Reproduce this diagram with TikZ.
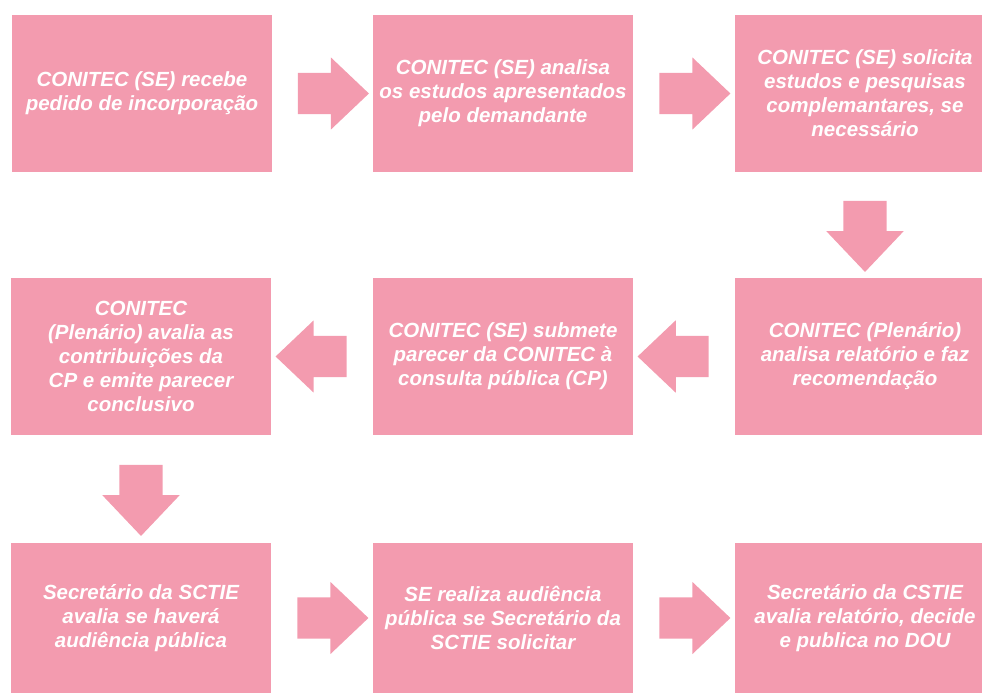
\documentclass[tikz,border=0pt]{standalone}
\usepackage{fontspec}
\setmainfont{Liberation Sans}
\usetikzlibrary{shapes.arrows,calc}
\definecolor{rosa}{RGB}{243,155,175}
\tikzset{>=latex}

\begin{document}
\begin{tikzpicture}[x=1pt,y=-1pt]

	\tikzstyle{box_pink} = [rectangle, fill=rosa, minimum width=260pt, minimum height=157pt, inner sep=0pt, align=center, text=white, font=\fontsize{20.5}{24}\selectfont\bfseries\itshape]
	\tikzstyle{box_last} = [box_pink, minimum height=150pt]
	\tikzstyle{arrow_right} = [single arrow, fill=rosa, inner sep=0pt, outer sep=0pt, inner ysep=20.5pt, minimum height=71pt, single arrow head extend=15.5pt, single arrow tip angle=87]
	\tikzstyle{arrow_left} = [arrow_right, rotate=180]
	\tikzstyle{arrow_down} = [arrow_right, rotate=-90, inner ysep=21.5pt, single arrow head extend=17pt]

	\useasboundingbox (0,0) rectangle (982,693);

%------------------------------------------------------------
	\node[box_pink] (b00) at (142,93.5) {CONITEC (SE) recebe\\pedido de incorporação};
	\node[box_pink] (b01) at (503,93.5) {CONITEC (SE) analisa\\os estudos apresentados\\pelo demandante};
	\node[box_pink] (b02) at (865,93.5) {CONITEC (SE) solicita\\estudos e pesquisas\\complemantares, se\\necessário};

%------------------------------------------------------------

	\node[box_pink] (b10) at (141,356.5) {CONITEC\\(Plenário) avalia as\\contribuições da\\CP e emite parecer\\conclusivo};
	\node[box_pink] (b11) at (503,356.5) {CONITEC (SE) submete\\parecer da CONITEC à\\consulta pública (CP)};
	\node[box_pink] (b12) at (865,356.5) {CONITEC (Plenário)\\analisa relatório e faz\\recomendação};

%------------------------------------------------------------

	\node[box_last] (b20) at (141,618) {Secretário da SCTIE\\avalia se haverá\\audiência pública};
	\node[box_last] (b21) at (503,618) {SE realiza audiência\\pública se Secretário da\\SCTIE solicitar};
	\node[box_last] (b22) at (865,618) {Secretário da CSTIE\\avalia relatório, decide\\e publica no DOU};

%------------------------------------------------------------

	\node[arrow_right] (a00) at ($(b00.east)!0.5!(b01.west)$) {};
	\node[arrow_right] (a01) at ($(b01.east)!0.5!(b02.west)$) {};
	\node[arrow_down] (a02) at ($(b02.south)!0.5!(b12.north)$) {};
	\node[arrow_left] (a12) at ($(b12.west)!0.5!(b11.east)$) {};
	\node[arrow_left] (a11) at ($(b11.west)!0.5!(b10.east)$) {};
	\node[arrow_down] (a10) at ($(b10.south)!0.5!(b20.north)$) {};
	\node[arrow_right] (a20) at ($(b20.east)!0.5!(b21.west)$) {};
	\node[arrow_right] (a21) at ($(b21.east)!0.5!(b22.west)$) {};

\end{tikzpicture}
\end{document}
